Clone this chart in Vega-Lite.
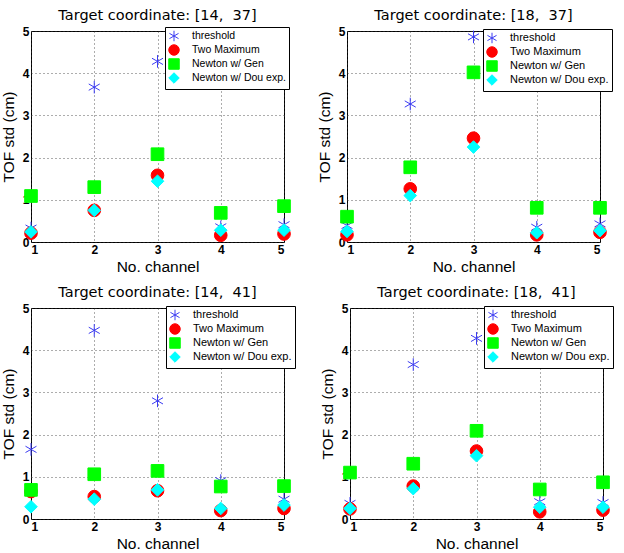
{
  "$schema": "https://vega.github.io/schema/vega-lite/v6.json",
  "background": "white",
  "padding": {"left": 0, "top": 4, "right": 2, "bottom": 0},
  "datasets": {
    "tof": [
      {"panel": "A", "method": "threshold", "ch": 1, "v": 0.33},
      {"panel": "A", "method": "threshold", "ch": 2, "v": 3.67},
      {"panel": "A", "method": "threshold", "ch": 3, "v": 4.28},
      {"panel": "A", "method": "threshold", "ch": 4, "v": 0.36},
      {"panel": "A", "method": "threshold", "ch": 5, "v": 0.41},
      {"panel": "A", "method": "Two Maximum", "ch": 1, "v": 0.21},
      {"panel": "A", "method": "Two Maximum", "ch": 2, "v": 0.75},
      {"panel": "A", "method": "Two Maximum", "ch": 3, "v": 1.58},
      {"panel": "A", "method": "Two Maximum", "ch": 4, "v": 0.16},
      {"panel": "A", "method": "Two Maximum", "ch": 5, "v": 0.19},
      {"panel": "A", "method": "Newton w/ Gen", "ch": 1, "v": 1.09},
      {"panel": "A", "method": "Newton w/ Gen", "ch": 2, "v": 1.3},
      {"panel": "A", "method": "Newton w/ Gen", "ch": 3, "v": 2.08},
      {"panel": "A", "method": "Newton w/ Gen", "ch": 4, "v": 0.69},
      {"panel": "A", "method": "Newton w/ Gen", "ch": 5, "v": 0.85},
      {"panel": "A", "method": "Newton w/ Dou exp.", "ch": 1, "v": 0.24},
      {"panel": "A", "method": "Newton w/ Dou exp.", "ch": 2, "v": 0.75},
      {"panel": "A", "method": "Newton w/ Dou exp.", "ch": 3, "v": 1.44},
      {"panel": "A", "method": "Newton w/ Dou exp.", "ch": 4, "v": 0.28},
      {"panel": "A", "method": "Newton w/ Dou exp.", "ch": 5, "v": 0.28},

      {"panel": "B", "method": "threshold", "ch": 1, "v": 0.39},
      {"panel": "B", "method": "threshold", "ch": 2, "v": 3.27},
      {"panel": "B", "method": "threshold", "ch": 3, "v": 4.86},
      {"panel": "B", "method": "threshold", "ch": 4, "v": 0.35},
      {"panel": "B", "method": "threshold", "ch": 5, "v": 0.43},
      {"panel": "B", "method": "Two Maximum", "ch": 1, "v": 0.17},
      {"panel": "B", "method": "Two Maximum", "ch": 2, "v": 1.26},
      {"panel": "B", "method": "Two Maximum", "ch": 3, "v": 2.46},
      {"panel": "B", "method": "Two Maximum", "ch": 4, "v": 0.17},
      {"panel": "B", "method": "Two Maximum", "ch": 5, "v": 0.23},
      {"panel": "B", "method": "Newton w/ Gen", "ch": 1, "v": 0.6},
      {"panel": "B", "method": "Newton w/ Gen", "ch": 2, "v": 1.77},
      {"panel": "B", "method": "Newton w/ Gen", "ch": 3, "v": 4.02},
      {"panel": "B", "method": "Newton w/ Gen", "ch": 4, "v": 0.81},
      {"panel": "B", "method": "Newton w/ Gen", "ch": 5, "v": 0.81},
      {"panel": "B", "method": "Newton w/ Dou exp.", "ch": 1, "v": 0.25},
      {"panel": "B", "method": "Newton w/ Dou exp.", "ch": 2, "v": 1.1},
      {"panel": "B", "method": "Newton w/ Dou exp.", "ch": 3, "v": 2.25},
      {"panel": "B", "method": "Newton w/ Dou exp.", "ch": 4, "v": 0.22},
      {"panel": "B", "method": "Newton w/ Dou exp.", "ch": 5, "v": 0.27},

      {"panel": "C", "method": "threshold", "ch": 1, "v": 1.65},
      {"panel": "C", "method": "threshold", "ch": 2, "v": 4.47},
      {"panel": "C", "method": "threshold", "ch": 3, "v": 2.8},
      {"panel": "C", "method": "threshold", "ch": 4, "v": 0.91},
      {"panel": "C", "method": "threshold", "ch": 5, "v": 0.47},
      {"panel": "C", "method": "Two Maximum", "ch": 1, "v": 0.65},
      {"panel": "C", "method": "Two Maximum", "ch": 2, "v": 0.53},
      {"panel": "C", "method": "Two Maximum", "ch": 3, "v": 0.67},
      {"panel": "C", "method": "Two Maximum", "ch": 4, "v": 0.2},
      {"panel": "C", "method": "Two Maximum", "ch": 5, "v": 0.25},
      {"panel": "C", "method": "Newton w/ Gen", "ch": 1, "v": 0.69},
      {"panel": "C", "method": "Newton w/ Gen", "ch": 2, "v": 1.06},
      {"panel": "C", "method": "Newton w/ Gen", "ch": 3, "v": 1.14},
      {"panel": "C", "method": "Newton w/ Gen", "ch": 4, "v": 0.77},
      {"panel": "C", "method": "Newton w/ Gen", "ch": 5, "v": 0.78},
      {"panel": "C", "method": "Newton w/ Dou exp.", "ch": 1, "v": 0.29},
      {"panel": "C", "method": "Newton w/ Dou exp.", "ch": 2, "v": 0.47},
      {"panel": "C", "method": "Newton w/ Dou exp.", "ch": 3, "v": 0.69},
      {"panel": "C", "method": "Newton w/ Dou exp.", "ch": 4, "v": 0.25},
      {"panel": "C", "method": "Newton w/ Dou exp.", "ch": 5, "v": 0.33},

      {"panel": "D", "method": "threshold", "ch": 1, "v": 0.37},
      {"panel": "D", "method": "threshold", "ch": 2, "v": 3.66},
      {"panel": "D", "method": "threshold", "ch": 3, "v": 4.28},
      {"panel": "D", "method": "threshold", "ch": 4, "v": 0.41},
      {"panel": "D", "method": "threshold", "ch": 5, "v": 0.39},
      {"panel": "D", "method": "Two Maximum", "ch": 1, "v": 0.24},
      {"panel": "D", "method": "Two Maximum", "ch": 2, "v": 0.78},
      {"panel": "D", "method": "Two Maximum", "ch": 3, "v": 1.61},
      {"panel": "D", "method": "Two Maximum", "ch": 4, "v": 0.17},
      {"panel": "D", "method": "Two Maximum", "ch": 5, "v": 0.21},
      {"panel": "D", "method": "Newton w/ Gen", "ch": 1, "v": 1.1},
      {"panel": "D", "method": "Newton w/ Gen", "ch": 2, "v": 1.31},
      {"panel": "D", "method": "Newton w/ Gen", "ch": 3, "v": 2.09},
      {"panel": "D", "method": "Newton w/ Gen", "ch": 4, "v": 0.7},
      {"panel": "D", "method": "Newton w/ Gen", "ch": 5, "v": 0.87},
      {"panel": "D", "method": "Newton w/ Dou exp.", "ch": 1, "v": 0.25},
      {"panel": "D", "method": "Newton w/ Dou exp.", "ch": 2, "v": 0.72},
      {"panel": "D", "method": "Newton w/ Dou exp.", "ch": 3, "v": 1.5},
      {"panel": "D", "method": "Newton w/ Dou exp.", "ch": 4, "v": 0.28},
      {"panel": "D", "method": "Newton w/ Dou exp.", "ch": 5, "v": 0.28}
    ]
  },
  "config": {
    "font": "Liberation Sans",
    "view": {"stroke": "black", "strokeWidth": 1},
    "title": {"fontSize": 1, "offset": 3, "subtitleFontSize": 14.5, "subtitleFont": "DejaVu Sans", "subtitleFontWeight": "normal", "subtitleColor": "black", "subtitlePadding": 0},
    "axis": {
      "domain": false,
      "grid": true,
      "gridColor": "#333333",
      "gridDash": [1, 3],
      "gridOpacity": 0.8,
      "ticks": false,
      "labelFontSize": 12,
      "labelFontWeight": "bold",
      "labelColor": "black",
      "titleFontSize": 15.5,
      "titleFontWeight": "normal",
      "titleColor": "black",
      "labelPadding": 2
    },
    "axisY": {"titlePadding": 6},
    "axisX": {"titlePadding": 4},
    "legend": {
      "orient": "none",
      "fillColor": "white",
      "strokeColor": "black",
      "padding": 3,
      "symbolSize": 110,
      "symbolStrokeWidth": 1,
      "labelFontSize": 11,
      "labelColor": "black",
      "labelOffset": 12,
      "rowPadding": -3,
      "labelLimit": 200
    }
  },
  "spacing": 6,
  "resolve": {"legend": {"color": "independent", "shape": "independent", "stroke": "independent"}},
  "vconcat": [
    {
      "spacing": 23,
      "resolve": {"legend": {"color": "independent", "shape": "independent", "stroke": "independent"}},
      "hconcat": [
        {
          "width": 253, "height": 211,
          "title": {"text": " ", "subtitle": "Target coordinate: [14,\u00a0 37]"},
          "data": {"name": "tof"},
          "transform": [{"filter": "datum.panel == 'A'"}],
          "mark": {"type": "point", "filled": true, "clip": false, "opacity": 1, "strokeWidth": 1, "size": 160},
          "encoding": {
            "x": {"field": "ch", "type": "quantitative", "scale": {"domain": [1, 5], "nice": false}, "axis": {"values": [1, 2, 3, 4, 5], "title": "No. channel"}},
            "y": {"field": "v", "type": "quantitative", "scale": {"domain": [0, 5], "nice": false}, "axis": {"values": [0, 1, 2, 3, 4, 5], "title": "TOF std (cm)"}},
            "color": {"field": "method", "type": "nominal", "scale": {"domain": ["threshold", "Two Maximum", "Newton w/ Gen", "Newton w/ Dou exp."], "range": ["#3b3bf2", "#ff0000", "#00ff00", "#00ffff"]}, "legend": {"title": null, "legendX": 134, "legendY": -4, "labelFontSize": 10.5, "encode": {"symbols": {"update": {"size": {"value": 110}}}}}},
            "stroke": {"field": "method", "type": "nominal", "scale": {"domain": ["threshold", "Two Maximum", "Newton w/ Gen", "Newton w/ Dou exp."], "range": ["#3b3bf2", "#ff0000", "#00ff00", "#00ffff"]}, "legend": {"title": null, "legendX": 134, "legendY": -4, "labelFontSize": 10.5, "encode": {"symbols": {"update": {"size": {"value": 110}}}}}},
            "shape": {"field": "method", "type": "nominal", "scale": {"domain": ["threshold", "Two Maximum", "Newton w/ Gen", "Newton w/ Dou exp."], "range": ["M0,-1L0,1M-0.87,-0.5L0.87,0.5M-0.87,0.5L0.87,-0.5", "circle", "square", "diamond"]}, "legend": {"title": null, "legendX": 134, "legendY": -4, "labelFontSize": 10.5, "encode": {"symbols": {"update": {"size": {"value": 110}}}}}}
          }
        },
        {
          "width": 253, "height": 211,
          "title": {"text": " ", "subtitle": "Target coordinate: [18,\u00a0 37]"},
          "data": {"name": "tof"},
          "transform": [{"filter": "datum.panel == 'B'"}],
          "mark": {"type": "point", "filled": true, "clip": false, "opacity": 1, "strokeWidth": 1, "size": 160},
          "encoding": {
            "x": {"field": "ch", "type": "quantitative", "scale": {"domain": [1, 5], "nice": false}, "axis": {"values": [1, 2, 3, 4, 5], "title": "No. channel"}},
            "y": {"field": "v", "type": "quantitative", "scale": {"domain": [0, 5], "nice": false}, "axis": {"values": [0, 1, 2, 3, 4, 5], "title": "TOF std (cm)"}},
            "color": {"field": "method", "type": "nominal", "scale": {"domain": ["threshold", "Two Maximum", "Newton w/ Gen", "Newton w/ Dou exp."], "range": ["#3b3bf2", "#ff0000", "#00ff00", "#00ffff"]}, "legend": {"title": null, "legendX": 136, "legendY": -2, "encode": {"symbols": {"update": {"size": {"value": 120}}}}}},
            "stroke": {"field": "method", "type": "nominal", "scale": {"domain": ["threshold", "Two Maximum", "Newton w/ Gen", "Newton w/ Dou exp."], "range": ["#3b3bf2", "#ff0000", "#00ff00", "#00ffff"]}, "legend": {"title": null, "legendX": 136, "legendY": -2, "encode": {"symbols": {"update": {"size": {"value": 120}}}}}},
            "shape": {"field": "method", "type": "nominal", "scale": {"domain": ["threshold", "Two Maximum", "Newton w/ Gen", "Newton w/ Dou exp."], "range": ["M0,-1L0,1M-0.87,-0.5L0.87,0.5M-0.87,0.5L0.87,-0.5", "circle", "square", "diamond"]}, "legend": {"title": null, "legendX": 136, "legendY": -2, "encode": {"symbols": {"update": {"size": {"value": 120}}}}}}
          }
        }
      ]
    },
    {
      "spacing": 23,
      "resolve": {"legend": {"color": "independent", "shape": "independent", "stroke": "independent"}},
      "hconcat": [
        {
          "width": 253, "height": 211,
          "title": {"text": " ", "subtitle": "Target coordinate: [14,\u00a0 41]"},
          "data": {"name": "tof"},
          "transform": [{"filter": "datum.panel == 'C'"}],
          "mark": {"type": "point", "filled": true, "clip": false, "opacity": 1, "strokeWidth": 1, "size": 160},
          "encoding": {
            "x": {"field": "ch", "type": "quantitative", "scale": {"domain": [1, 5], "nice": false}, "axis": {"values": [1, 2, 3, 4, 5], "title": "No. channel"}},
            "y": {"field": "v", "type": "quantitative", "scale": {"domain": [0, 5], "nice": false}, "axis": {"values": [0, 1, 2, 3, 4, 5], "title": "TOF std (cm)"}},
            "color": {"field": "method", "type": "nominal", "scale": {"domain": ["threshold", "Two Maximum", "Newton w/ Gen", "Newton w/ Dou exp."], "range": ["#3b3bf2", "#ff0000", "#00ff00", "#00ffff"]}, "legend": {"title": null, "legendX": 135, "legendY": -2, "encode": {"symbols": {"update": {"size": {"value": 120}}}}}},
            "stroke": {"field": "method", "type": "nominal", "scale": {"domain": ["threshold", "Two Maximum", "Newton w/ Gen", "Newton w/ Dou exp."], "range": ["#3b3bf2", "#ff0000", "#00ff00", "#00ffff"]}, "legend": {"title": null, "legendX": 135, "legendY": -2, "encode": {"symbols": {"update": {"size": {"value": 120}}}}}},
            "shape": {"field": "method", "type": "nominal", "scale": {"domain": ["threshold", "Two Maximum", "Newton w/ Gen", "Newton w/ Dou exp."], "range": ["M0,-1L0,1M-0.87,-0.5L0.87,0.5M-0.87,0.5L0.87,-0.5", "circle", "square", "diamond"]}, "legend": {"title": null, "legendX": 135, "legendY": -2, "encode": {"symbols": {"update": {"size": {"value": 120}}}}}}
          }
        },
        {
          "width": 253, "height": 211,
          "title": {"text": " ", "subtitle": "Target coordinate: [18,\u00a0 41]"},
          "data": {"name": "tof"},
          "transform": [{"filter": "datum.panel == 'D'"}],
          "mark": {"type": "point", "filled": true, "clip": false, "opacity": 1, "strokeWidth": 1, "size": 160},
          "encoding": {
            "x": {"field": "ch", "type": "quantitative", "scale": {"domain": [1, 5], "nice": false}, "axis": {"values": [1, 2, 3, 4, 5], "title": "No. channel"}},
            "y": {"field": "v", "type": "quantitative", "scale": {"domain": [0, 5], "nice": false}, "axis": {"values": [0, 1, 2, 3, 4, 5], "title": "TOF std (cm)"}},
            "color": {"field": "method", "type": "nominal", "scale": {"domain": ["threshold", "Two Maximum", "Newton w/ Gen", "Newton w/ Dou exp."], "range": ["#3b3bf2", "#ff0000", "#00ff00", "#00ffff"]}, "legend": {"title": null, "legendX": 134, "legendY": -2, "encode": {"symbols": {"update": {"size": {"value": 120}}}}}},
            "stroke": {"field": "method", "type": "nominal", "scale": {"domain": ["threshold", "Two Maximum", "Newton w/ Gen", "Newton w/ Dou exp."], "range": ["#3b3bf2", "#ff0000", "#00ff00", "#00ffff"]}, "legend": {"title": null, "legendX": 134, "legendY": -2, "encode": {"symbols": {"update": {"size": {"value": 120}}}}}},
            "shape": {"field": "method", "type": "nominal", "scale": {"domain": ["threshold", "Two Maximum", "Newton w/ Gen", "Newton w/ Dou exp."], "range": ["M0,-1L0,1M-0.87,-0.5L0.87,0.5M-0.87,0.5L0.87,-0.5", "circle", "square", "diamond"]}, "legend": {"title": null, "legendX": 134, "legendY": -2, "encode": {"symbols": {"update": {"size": {"value": 120}}}}}}
          }
        }
      ]
    }
  ]
}
